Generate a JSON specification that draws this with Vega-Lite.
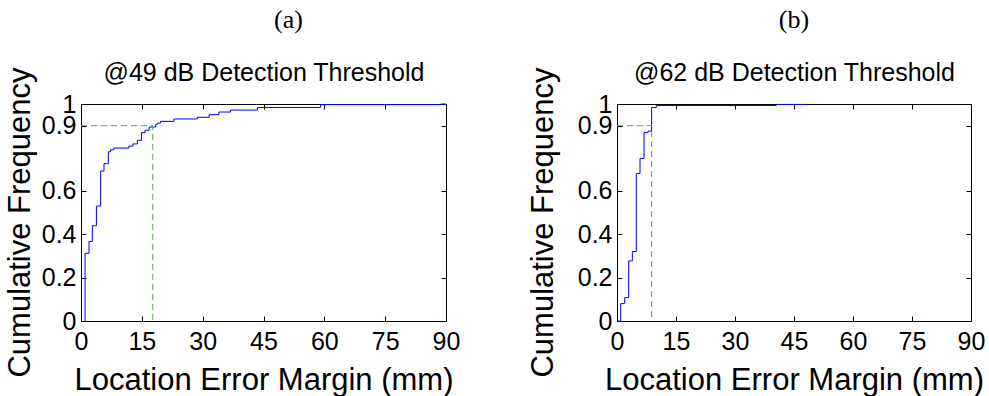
{
  "$schema": "https://vega.github.io/schema/vega-lite/v6.json",
  "background": "white",
  "padding": {"left": 3, "top": 6, "right": 0, "bottom": 0},
  "spacing": 65,
  "config": {
    "font": "Liberation Sans",
    "view": {"stroke": "black", "strokeWidth": 1},
    "axis": {
      "grid": false,
      "domainColor": "black",
      "domainWidth": 1,
      "tickColor": "black",
      "tickWidth": 1,
      "tickSize": -5,
      "labelColor": "black",
      "titleColor": "black",
      "labelFont": "Liberation Sans",
      "titleFont": "Liberation Sans",
      "labelFontSize": 25,
      "titleFontSize": 31,
      "titleFontWeight": "normal",
      "labelOverlap": false,
      "labelFlush": false,
      "labelBound": false
    }
  },
  "hconcat": [
    {
      "width": 365,
      "height": 217,
      "title": {"text": "(a)", "font": "Liberation Serif", "fontSize": 26, "fontWeight": "normal", "color": "black", "dx": 25, "offset": 28},
      "resolve": {"axis": {"x": "independent", "y": "independent"}},
      "layer": [
        {
          "data": {"values": [
            {"x": 1.0, "y": 0}, {"x": 1.0, "y": 0.312}, {"x": 1.97, "y": 0.367}, {"x": 2.8, "y": 0.439},
            {"x": 3.8, "y": 0.53}, {"x": 4.85, "y": 0.691}, {"x": 5.67, "y": 0.725}, {"x": 6.74, "y": 0.78},
            {"x": 7.3, "y": 0.789}, {"x": 8.1, "y": 0.797}, {"x": 11.8, "y": 0.806}, {"x": 12.8, "y": 0.816},
            {"x": 13.9, "y": 0.833}, {"x": 14.9, "y": 0.868}, {"x": 15.8, "y": 0.879}, {"x": 16.8, "y": 0.894},
            {"x": 18.4, "y": 0.905}, {"x": 18.8, "y": 0.912}, {"x": 19.6, "y": 0.92}, {"x": 22.9, "y": 0.931},
            {"x": 28.7, "y": 0.939}, {"x": 31.6, "y": 0.951}, {"x": 34.0, "y": 0.963}, {"x": 36.9, "y": 0.972},
            {"x": 43.5, "y": 0.984}, {"x": 59.1, "y": 0.997}, {"x": 88.7, "y": 1.0}, {"x": 90, "y": 1.0}
          ]},
          "mark": {"type": "line", "interpolate": "step-after", "color": "#0000ff", "strokeWidth": 1},
          "encoding": {
            "x": {"field": "x", "type": "quantitative", "scale": {"domain": [0, 90], "nice": false},
              "axis": {"orient": "bottom", "values": [0, 15, 30, 45, 60, 75, 90], "labelPadding": 13, "title": "Location Error Margin (mm)", "titlePadding": 11}},
            "y": {"field": "y", "type": "quantitative", "scale": {"domain": [0, 1], "nice": false},
              "axis": {"orient": "left", "values": [0, 0.2, 0.4, 0.6, 0.9, 1], "format": ".1~f", "labelPadding": 10, "title": "Cumulative Frequency", "titlePadding": 5, "titleY": 118}}
          }
        },
        {
          "data": {"values": [{"x": 0, "y": 0.9, "o": 0}, {"x": 17.7, "y": 0.9, "o": 1}, {"x": 17.7, "y": 0, "o": 2}]},
          "mark": {"type": "line", "color": "#3cb043", "strokeDash": [6, 4], "strokeWidth": 1},
          "encoding": {
            "x": {"field": "x", "type": "quantitative", "scale": {"domain": [0, 90], "nice": false},
              "axis": {"orient": "top", "values": [0, 15, 30, 45, 60, 75, 90], "labels": false, "title": "@49 dB Detection Threshold", "titleFontSize": 25, "titlePadding": 18}},
            "y": {"field": "y", "type": "quantitative", "scale": {"domain": [0, 1], "nice": false},
              "axis": {"orient": "right", "values": [0, 0.2, 0.4, 0.6, 0.9, 1], "labels": false, "title": null}},
            "order": {"field": "o", "type": "quantitative"}
          }
        }
      ]
    },
    {
      "width": 354,
      "height": 217,
      "title": {"text": "(b)", "font": "Liberation Serif", "fontSize": 26, "fontWeight": "normal", "color": "black", "dx": 0, "offset": 28},
      "resolve": {"axis": {"x": "independent", "y": "independent"}},
      "layer": [
        {
          "data": {"values": [
            {"x": 0, "y": 0}, {"x": 0.94, "y": 0.08}, {"x": 1.96, "y": 0.108}, {"x": 2.97, "y": 0.277},
            {"x": 3.9, "y": 0.32}, {"x": 4.9, "y": 0.68}, {"x": 5.85, "y": 0.749}, {"x": 6.87, "y": 0.868},
            {"x": 7.88, "y": 0.875}, {"x": 8.8, "y": 0.984}, {"x": 10.0, "y": 0.993}, {"x": 40.5, "y": 0.998},
            {"x": 48.1, "y": 0.998}
          ]},
          "mark": {"type": "line", "interpolate": "step-after", "color": "#0000ff", "strokeWidth": 1},
          "encoding": {
            "x": {"field": "x", "type": "quantitative", "scale": {"domain": [0, 90], "nice": false},
              "axis": {"orient": "bottom", "values": [0, 15, 30, 45, 60, 75, 90], "labelPadding": 13, "title": "Location Error Margin (mm)", "titlePadding": 11}},
            "y": {"field": "y", "type": "quantitative", "scale": {"domain": [0, 1], "nice": false},
              "axis": {"orient": "left", "values": [0, 0.2, 0.4, 0.6, 0.9, 1], "format": ".1~f", "labelPadding": 10, "title": "Cumulative Frequency", "titlePadding": 18, "titleY": 118}}
          }
        },
        {
          "data": {"values": [{"x": 0, "y": 0.9, "o": 0}, {"x": 8.8, "y": 0.9, "o": 1}, {"x": 8.8, "y": 0, "o": 2}]},
          "mark": {"type": "line", "color": "#3cb043", "strokeDash": [6, 4], "strokeWidth": 1},
          "encoding": {
            "x": {"field": "x", "type": "quantitative", "scale": {"domain": [0, 90], "nice": false},
              "axis": {"orient": "top", "values": [0, 15, 30, 45, 60, 75, 90], "labels": false, "title": "@62 dB Detection Threshold", "titleFontSize": 25, "titlePadding": 18}},
            "y": {"field": "y", "type": "quantitative", "scale": {"domain": [0, 1], "nice": false},
              "axis": {"orient": "right", "values": [0, 0.2, 0.4, 0.6, 0.9, 1], "labels": false, "title": null}},
            "order": {"field": "o", "type": "quantitative"}
          }
        }
      ]
    }
  ]
}
